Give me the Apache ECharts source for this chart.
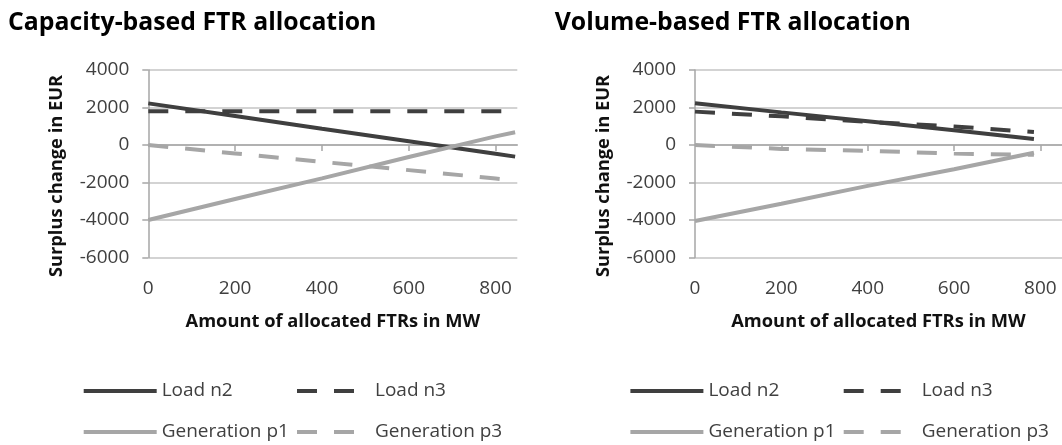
<!DOCTYPE html>
<html><head><meta charset="utf-8">
<script src="https://cdn.jsdelivr.net/npm/echarts@6/dist/echarts.min.js"></script>
<style>html,body{margin:0;padding:0;background:#fff}#c{width:1062px;height:445px}</style>
</head><body><div id="c"></div>
<script>
const titles = ['Capacity-based FTR allocation', 'Volume-based FTR allocation'];
const yName = 'Surplus change in EUR';
const xName = 'Amount of allocated FTRs in MW';
const seriesNames = ['Load n2', 'Load n3', 'Generation p1', 'Generation p3'];
const xTickLabels = [0, 200, 400, 600, 800];
const yTickLabels = [-6000, -4000, -2000, 0, 2000, 4000];

// Capacity-based chart
const capX = [0, 200, 400, 600, 800, 845];
const capLoadN2 = [2220, 1550, 870, 200, -470, -620];
const capLoadN3 = [1800, 1800, 1800, 1800, 1800, 1800];
const capGenP1 = [-4000, -2880, -1780, -640, 460, 680];
const capGenP3 = [0, -450, -900, -1340, -1790, -1890];

// Volume-based chart
const volX = [0, 200, 400, 600, 785];
const volLoadN2 = [2230, 1740, 1270, 790, 320];
const volLoadN3 = [1780, 1530, 1235, 990, 690];
const volGenP1 = [-4050, -3130, -2180, -1290, -410];
const volGenP3 = [0, -210, -310, -460, -520];

const FONT = 'Open Sans';
const DARK = '#3f3f3f', LIGHT = '#a6a6a6';
const styles = [
  {color: DARK, type: 'solid'},
  {color: DARK, type: [20, 17]},
  {color: LIGHT, type: 'solid'},
  {color: LIGHT, type: [20, 17]}
];
const panels = [
  {x: capX, ys: [capLoadN2, capLoadN3, capGenP1, capGenP3], left: 148.3},
  {x: volX, ys: [volLoadN2, volLoadN3, volGenP1, volGenP3], left: 695}
];
const GRID_TOP = 70, GRID_H = 187.5, GRID_W = 369, XMAX = 850;

const grid = [], xAxis = [], yAxis = [], series = [], legend = [], title = [], graphic = [];
panels.forEach((p, g) => {
  grid.push({left: p.left, top: GRID_TOP, width: GRID_W, height: GRID_H});
  // label axis at bottom
  xAxis.push({
    type: 'value', gridIndex: g, min: 0, max: XMAX, position: 'bottom',
    axisLine: {show: false, onZero: false}, axisTick: {show: false}, splitLine: {show: false},
    axisLabel: {customValues: xTickLabels, fontSize: 19, fontFamily: FONT, color: '#404040', margin: 20, lineHeight: 22},
    name: xName, nameLocation: 'middle', nameGap: 55,
    nameTextStyle: {fontSize: 18.3, fontWeight: 'bold', fontFamily: FONT, color: '#111'}
  });
  // zero line axis with ticks
  xAxis.push({
    type: 'value', gridIndex: g, min: 0, max: XMAX, position: 'top',
    axisLine: {show: true, onZero: true, lineStyle: {color: '#a6a6a6', width: 1.5}},
    axisTick: {show: true, inside: true, length: 6, customValues: [200, 400, 600, 800], lineStyle: {color: '#a6a6a6', width: 1.5}},
    axisLabel: {show: false}, splitLine: {show: false}
  });
  yAxis.push({
    type: 'value', gridIndex: g, min: yTickLabels[0], max: yTickLabels[yTickLabels.length - 1], interval: 2000,
    axisLine: {show: true, onZero: false, lineStyle: {color: '#a6a6a6', width: 1.5}},
    axisTick: {show: true, length: 6, lineStyle: {color: '#a6a6a6', width: 1.5}},
    axisLabel: {fontSize: 19, fontFamily: FONT, color: '#404040', margin: 19, formatter: v => String(v)},
    splitLine: {lineStyle: {color: '#c4c4c4', width: 1.5}}
  });
  seriesNames.forEach((n, i) => {
    series.push({
      name: n, type: 'line', xAxisIndex: g * 2, yAxisIndex: g, symbol: 'none',
      data: p.x.map((xv, k) => [xv, p.ys[i][k]]),
      lineStyle: {width: 4, color: styles[i].color, type: styles[i].type},
      itemStyle: {color: styles[i].color},
      animation: false, silent: true
    });
  });
  const off = g * 546.7;
  const lt = {fontSize: 19, fontFamily: FONT, color: '#404040', lineHeight: 22};
  const noSym = {color: 'rgba(0,0,0,0)', borderWidth: 0, opacity: 0};
  legend.push({left: 81.7 + off, top: 380, orient: 'vertical', padding: 0, itemGap: 19,
    itemWidth: 73, itemHeight: 14, data: ['Load n2', 'Generation p1'], textStyle: lt,
    lineStyle: {width: 4}, itemStyle: noSym, selectedMode: false});
  legend.push({left: 295 + off, top: 380, orient: 'vertical', padding: 0, itemGap: 19,
    itemWidth: 73, itemHeight: 14, data: ['Load n3', 'Generation p3'], textStyle: lt,
    lineStyle: {width: 4}, itemStyle: noSym, selectedMode: false});
  title.push({text: titles[g], left: g === 0 ? 8 : 554.7, top: 7.5, padding: 0,
    textStyle: {fontSize: 24.8, fontWeight: 'bold', fontFamily: FONT, color: '#000', lineHeight: 30}});
  graphic.push({type: 'text', x: 57 + off, y: 176, rotation: Math.PI / 2,
    style: {text: yName, align: 'center', verticalAlign: 'middle', fontSize: 18.3, fontWeight: 'bold', fontFamily: FONT, fill: '#111'}});
});

const chart = echarts.init(document.getElementById('c'), null, {renderer: 'canvas'});
chart.setOption({animation: false, backgroundColor: '#fff', title, grid, xAxis, yAxis, series, legend, graphic});
</script></body></html>
